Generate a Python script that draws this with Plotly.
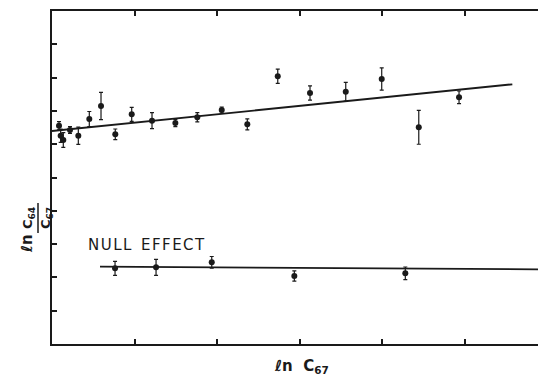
import plotly.graph_objects as go

# Upper series: ln(C64/C67) vs ln C67
x_main = [0.085, 0.105, 0.137, 0.218, 0.319, 0.452, 0.594, 0.767, 0.966, 1.212,
          1.495, 1.761, 2.057, 2.367, 2.736, 3.127, 3.560, 3.996, 4.445, 4.933]
y_main = [6.555, 6.255, 6.126, 6.426, 6.255, 6.757, 7.147, 6.297, 6.898, 6.706,
          6.637, 6.808, 7.027, 6.598, 8.039, 7.538, 7.577, 7.958, 6.508, 7.408]
err_main = [0.125, 0.20, 0.22, 0.10, 0.26, 0.225, 0.41, 0.16, 0.21, 0.24,
            0.11, 0.14, 0.09, 0.165, 0.215, 0.215, 0.28, 0.335, 0.51, 0.19]

fit_main_x = [0.0, 5.579]
fit_main_y = [6.396, 7.799]

# Null effect series
x_null = [0.764, 1.261, 1.936, 2.937, 4.282]
y_null = [2.273, 2.303, 2.453, 2.042, 2.123]
err_null = [0.21, 0.24, 0.175, 0.155, 0.19]

fit_null_x = [0.582, 5.95]
fit_null_y = [2.321, 2.243]

x_ticks = [0, 1, 2, 3, 4, 5]
y_ticks = list(range(0, 11))

INK = "#1a1a1a"

fig = go.Figure()

fig.add_trace(go.Scatter(x=fit_main_x, y=fit_main_y, mode="lines",
                         line=dict(color=INK, width=1.8), showlegend=False,
                         hoverinfo="skip"))
fig.add_trace(go.Scatter(x=fit_null_x, y=fit_null_y, mode="lines",
                         line=dict(color=INK, width=1.8), showlegend=False,
                         hoverinfo="skip"))

for xs, ys, es in [(x_main, y_main, err_main), (x_null, y_null, err_null)]:
    fig.add_trace(go.Scatter(
        x=xs, y=ys, mode="markers",
        marker=dict(color=INK, size=6),
        error_y=dict(type="data", array=es, visible=True, color=INK,
                     thickness=1.2, width=2),
        showlegend=False))

fig.update_xaxes(range=[0, 5.89], showgrid=False, zeroline=False,
                 showline=True, linecolor=INK, linewidth=1.8, mirror="ticks",
                 ticks="inside", ticklen=5, tickwidth=1.5, tickcolor=INK,
                 tickvals=x_ticks, showticklabels=False)
fig.update_yaxes(range=[0, 10], showgrid=False, zeroline=False,
                 showline=True, linecolor=INK, linewidth=1.8,
                 ticks="inside", ticklen=5, tickwidth=1.5, tickcolor=INK,
                 tickvals=y_ticks, showticklabels=False)

# plot area in screen pixels
L, T, W, H = 52, 11, 486, 333
FW, FH = 538, 379

def px(x):
    return (x - L) / W

def py(y):
    return (T + H - y) / H

HS = "\u200a"
null_text = HS.join("NULL") + "  " + HS.join("EFFECT")
fig.add_annotation(x=0.41, y=2.97, xref="x", yref="y", text=null_text,
                   showarrow=False, xanchor="left", yanchor="middle",
                   font=dict(family="DejaVu Sans", size=15, color=INK))

fig.add_annotation(x=px(301), y=py(367), xref="paper", yref="paper",
                   text="<b>ℓn  C<sub>67</sub></b>", showarrow=False,
                   xanchor="center", yanchor="middle",
                   font=dict(family="DejaVu Sans", size=15, color=INK))

fig.add_annotation(x=px(27), y=py(244), xref="paper", yref="paper",
                   text="<b>ℓn</b>", textangle=-90, showarrow=False,
                   xanchor="center", yanchor="middle",
                   font=dict(family="DejaVu Sans", size=15, color=INK))
fig.add_annotation(x=px(28), y=py(218), xref="paper", yref="paper",
                   text="<b>C<sub>64</sub></b>", textangle=-90, showarrow=False,
                   xanchor="center", yanchor="middle",
                   font=dict(family="DejaVu Sans", size=13, color=INK))
fig.add_annotation(x=px(46), y=py(218), xref="paper", yref="paper",
                   text="<b>C<sub>67</sub></b>", textangle=-90, showarrow=False,
                   xanchor="center", yanchor="middle",
                   font=dict(family="DejaVu Sans", size=13, color=INK))
fig.add_shape(type="line", xref="paper", yref="paper",
              x0=px(38), x1=px(38), y0=py(203), y1=py(233),
              line=dict(color=INK, width=1.5))

fig.update_layout(width=FW, height=FH,
                  margin=dict(l=L, r=FW - L - W, t=T, b=FH - T - H),
                  paper_bgcolor="white", plot_bgcolor="white")

fig.write_html("out.html", config={"displayModeBar": False},
               post_script="document.body.style.margin='0';"
                           "document.body.style.overflow='hidden';")
